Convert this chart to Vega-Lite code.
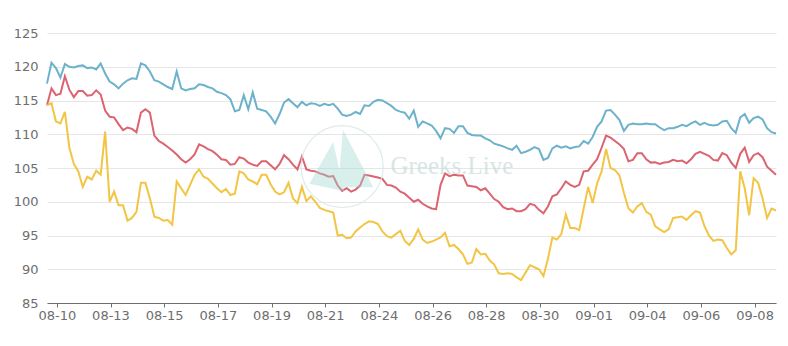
{
  "$schema": "https://vega.github.io/schema/vega-lite/v6.json",
  "width": 729,
  "height": 270,
  "autosize": {"type": "none"},
  "padding": {"left": 47, "top": 33, "right": 12, "bottom": 43},
  "background": "white",
  "config": {"view": {"stroke": null}, "font": "DejaVu Sans"},
  "datasets": {
    "lines": [
      {"i":0,"a":117.5,"b":114.3,"c":114.3},{"i":1,"a":120.6,"b":116.8,"c":114.6},{"i":2,"a":119.8,"b":115.8,"c":111.9},{"i":3,"a":118.4,"b":116.0,"c":111.6},{"i":4,"a":120.4,"b":118.6,"c":113.3},{"i":5,"a":120.0,"b":116.6,"c":108.0},{"i":6,"a":119.9,"b":115.5,"c":105.6},{"i":7,"a":120.1,"b":116.4,"c":104.5},{"i":8,"a":120.2,"b":116.4,"c":102.2},{"i":9,"a":119.8,"b":115.7,"c":103.7},
      {"i":10,"a":119.9,"b":115.8,"c":103.3},{"i":11,"a":119.6,"b":116.5,"c":104.6},{"i":12,"a":120.5,"b":115.9,"c":104.0},{"i":13,"a":119.0,"b":113.5,"c":110.4},{"i":14,"a":117.8,"b":112.6,"c":100.0},{"i":15,"a":117.4,"b":112.5,"c":101.5},{"i":16,"a":116.8,"b":111.5,"c":99.5},{"i":17,"a":117.5,"b":110.6,"c":99.5},{"i":18,"a":118.0,"b":111.0,"c":97.2},{"i":19,"a":118.3,"b":110.8,"c":97.6},
      {"i":20,"a":118.2,"b":110.3,"c":98.5},{"i":21,"a":120.5,"b":113.2,"c":102.8},{"i":22,"a":120.2,"b":113.7,"c":102.8},{"i":23,"a":119.3,"b":113.2,"c":100.5},{"i":24,"a":118.0,"b":109.8,"c":97.8},{"i":25,"a":117.8,"b":109.0,"c":97.6},{"i":26,"a":117.4,"b":108.6,"c":97.2},{"i":27,"a":117.0,"b":108.1,"c":97.3},{"i":28,"a":116.7,"b":107.6,"c":96.6},{"i":29,"a":119.3,"b":107.0,"c":103.0},
      {"i":30,"a":116.8,"b":106.3,"c":102.0},{"i":31,"a":116.5,"b":105.8,"c":101.0},{"i":32,"a":116.7,"b":106.3,"c":102.5},{"i":33,"a":116.8,"b":107.0,"c":104.0},{"i":34,"a":117.4,"b":108.5,"c":104.8},{"i":35,"a":117.3,"b":108.2,"c":103.7},{"i":36,"a":117.0,"b":107.8,"c":103.4},{"i":37,"a":116.8,"b":107.5,"c":102.7},{"i":38,"a":116.3,"b":106.95,"c":102.0},{"i":39,"a":116.1,"b":106.3,"c":101.4},
      {"i":40,"a":115.8,"b":106.2,"c":101.9},{"i":41,"a":115.2,"b":105.5,"c":101.0},{"i":42,"a":113.4,"b":105.6,"c":101.2},{"i":43,"a":113.6,"b":106.6,"c":104.5},{"i":44,"a":115.8,"b":106.4,"c":104.2},{"i":45,"a":113.7,"b":105.8,"c":103.3},{"i":46,"a":116.2,"b":105.5,"c":103.0},{"i":47,"a":113.8,"b":105.3,"c":102.6},{"i":48,"a":113.6,"b":106.0,"c":104.0},{"i":49,"a":113.4,"b":106.0,"c":104.0},
      {"i":50,"a":112.6,"b":105.4,"c":102.6},{"i":51,"a":111.6,"b":104.8,"c":101.5},{"i":52,"a":113.0,"b":105.6,"c":101.1},{"i":53,"a":114.7,"b":106.9,"c":101.4},{"i":54,"a":115.2,"b":106.3,"c":102.8},{"i":55,"a":114.6,"b":105.5,"c":100.5},{"i":56,"a":114.0,"b":104.8,"c":99.8},{"i":57,"a":114.8,"b":106.7,"c":102.2},{"i":58,"a":114.3,"b":104.8,"c":100.1},{"i":59,"a":114.6,"b":104.6,"c":100.8},
      {"i":60,"a":114.5,"b":104.5,"c":100.0},{"i":61,"a":114.2,"b":104.2,"c":99.1},{"i":62,"a":114.5,"b":104.0,"c":98.8},{"i":63,"a":114.3,"b":103.7,"c":98.6},{"i":64,"a":114.5,"b":103.8,"c":98.4},{"i":65,"a":113.8,"b":102.4,"c":95.0},{"i":66,"a":112.9,"b":101.6,"c":95.1},{"i":67,"a":112.7,"b":102.0,"c":94.6},{"i":68,"a":112.9,"b":101.5,"c":94.7},{"i":69,"a":113.3,"b":101.8,"c":95.6},
      {"i":70,"a":113.0,"b":102.4,"c":96.2},{"i":71,"a":114.3,"b":104.0,"c":96.7},{"i":72,"a":114.2,"b":103.9,"c":97.1},{"i":73,"a":114.8,"b":103.75,"c":97.0},{"i":74,"a":115.1,"b":103.6,"c":96.7},{"i":75,"a":115.0,"b":103.4,"c":95.6},{"i":76,"a":114.6,"b":102.5,"c":94.9},{"i":77,"a":114.2,"b":102.4,"c":94.7},{"i":78,"a":113.6,"b":102.1,"c":95.2},{"i":79,"a":113.35,"b":101.5,"c":95.7},
      {"i":80,"a":113.2,"b":101.2,"c":94.2},{"i":81,"a":112.3,"b":100.6,"c":93.6},{"i":82,"a":113.5,"b":100.0,"c":94.5},{"i":83,"a":111.1,"b":100.3,"c":95.9},{"i":84,"a":111.9,"b":99.7,"c":94.4},{"i":85,"a":111.6,"b":99.3,"c":93.9},{"i":86,"a":111.3,"b":99.0,"c":94.1},{"i":87,"a":110.5,"b":98.9,"c":94.4},{"i":88,"a":109.4,"b":102.5,"c":94.7},{"i":89,"a":110.9,"b":104.2,"c":95.4},
      {"i":90,"a":110.8,"b":103.8,"c":93.4},{"i":91,"a":110.2,"b":104.0,"c":93.6},{"i":92,"a":111.2,"b":103.9,"c":93.0},{"i":93,"a":111.2,"b":103.9,"c":92.2},{"i":94,"a":110.2,"b":102.4,"c":90.8},{"i":95,"a":109.9,"b":102.3,"c":91.0},{"i":96,"a":109.8,"b":102.2,"c":93.0},{"i":97,"a":109.8,"b":101.7,"c":92.2},{"i":98,"a":109.4,"b":102.0,"c":92.3},{"i":99,"a":109.1,"b":101.2,"c":91.3},
      {"i":100,"a":108.6,"b":100.4,"c":90.7},{"i":101,"a":108.4,"b":100.0,"c":89.4},{"i":102,"a":108.2,"b":99.2,"c":89.3},{"i":103,"a":107.9,"b":98.9,"c":89.4},{"i":104,"a":107.7,"b":99.0,"c":89.3},{"i":105,"a":108.3,"b":98.6,"c":88.8},{"i":106,"a":107.2,"b":98.6,"c":88.4},{"i":107,"a":107.4,"b":98.9,"c":89.5},{"i":108,"a":107.7,"b":99.7,"c":90.6},{"i":109,"a":108.1,"b":99.5,"c":90.3},
      {"i":110,"a":107.8,"b":98.8,"c":90.0},{"i":111,"a":106.2,"b":98.3,"c":89.0},{"i":112,"a":106.5,"b":99.3,"c":91.5},{"i":113,"a":107.9,"b":100.8,"c":94.7},{"i":114,"a":108.3,"b":101.1,"c":94.4},{"i":115,"a":108.0,"b":102.0,"c":95.2},{"i":116,"a":108.2,"b":103.0,"c":98.1},{"i":117,"a":107.9,"b":102.5,"c":96.1},{"i":118,"a":108.1,"b":102.2,"c":96.1},{"i":119,"a":108.2,"b":102.5,"c":95.8},
      {"i":120,"a":109.0,"b":104.5,"c":99.0},{"i":121,"a":108.6,"b":104.6,"c":102.2},{"i":122,"a":109.6,"b":105.5,"c":99.8},{"i":123,"a":111.1,"b":106.3,"c":102.7},{"i":124,"a":111.9,"b":108.0,"c":104.5},{"i":125,"a":113.5,"b":109.8,"c":107.8},{"i":126,"a":113.6,"b":109.5,"c":105.0},{"i":127,"a":112.9,"b":109.0,"c":104.7},{"i":128,"a":112.1,"b":108.5,"c":103.9},{"i":129,"a":110.5,"b":107.8,"c":101.3},
      {"i":130,"a":111.4,"b":106.0,"c":99.05},{"i":131,"a":111.6,"b":106.2,"c":98.4},{"i":132,"a":111.5,"b":107.2,"c":99.3},{"i":133,"a":111.5,"b":107.2,"c":99.8},{"i":134,"a":111.6,"b":106.3,"c":98.5},{"i":135,"a":111.5,"b":105.8,"c":98.1},{"i":136,"a":111.5,"b":105.85,"c":96.35},{"i":137,"a":111.0,"b":105.6,"c":95.9},{"i":138,"a":110.6,"b":105.8,"c":95.5},{"i":139,"a":110.9,"b":105.9,"c":95.9},
      {"i":140,"a":110.9,"b":106.2,"c":97.6},{"i":141,"a":111.1,"b":106.0,"c":97.7},{"i":142,"a":111.4,"b":106.1,"c":97.8},{"i":143,"a":111.2,"b":105.7,"c":97.3},{"i":144,"a":111.6,"b":106.3,"c":98.0},{"i":145,"a":111.9,"b":107.1,"c":98.6},{"i":146,"a":111.4,"b":107.4,"c":98.4},{"i":147,"a":111.7,"b":107.1,"c":96.4},{"i":148,"a":111.4,"b":106.8,"c":95.0},{"i":149,"a":111.3,"b":106.2,"c":94.2},
      {"i":150,"a":111.4,"b":106.1,"c":94.4},{"i":151,"a":111.9,"b":107.2,"c":94.3},{"i":152,"a":112.0,"b":106.9,"c":93.15},{"i":153,"a":110.9,"b":105.8,"c":92.2},{"i":154,"a":110.2,"b":105.0,"c":92.8},{"i":155,"a":112.5,"b":107.1,"c":104.5},{"i":156,"a":113.0,"b":108.0,"c":102.0},{"i":157,"a":111.7,"b":105.9,"c":98.0},{"i":158,"a":112.4,"b":106.9,"c":103.5},{"i":159,"a":112.6,"b":107.2,"c":102.8},
      {"i":160,"a":112.2,"b":106.6,"c":100.5},{"i":161,"a":110.9,"b":105.2,"c":97.6},{"i":162,"a":110.3,"b":104.6,"c":99.0},{"i":163,"a":110.1,"b":104.0,"c":98.7}
    ],
    "mark": [
      {"kind": "logo", "i": 66, "v": 105.2, "t": ""},
      {"kind": "text", "i": 76.8, "v": 105.3, "t": "Greeks.Live"}
    ]
  },
  "encoding": {
    "x": {
      "field": "i", "type": "quantitative",
      "scale": {"domain": [0, 163], "nice": false, "zero": false},
      "axis": {
        "title": null, "grid": false,
        "values": [2.2, 14.2, 26.2, 38.2, 50.2, 62.2, 74.2, 86.2, 98.2, 110.2, 122.2, 134.2, 146.2, 158.2],
        "labelExpr": "['08-10','08-13','08-15','08-17','08-19','08-21','08-24','08-26','08-28','08-30','09-01','09-04','09-06','09-08'][round((datum.value-2.2)/12)]",
        "domainColor": "#6e6e6e", "tickColor": "#6e6e6e", "tickSize": 4,
        "labelColor": "#6e6e6e", "labelFont": "DejaVu Sans", "labelFontSize": 13,
        "labelPadding": 2, "labelFlush": false, "labelOverlap": false
      }
    },
    "y": {
      "field": "v", "type": "quantitative",
      "scale": {"domain": [85, 125], "nice": false, "zero": false},
      "axis": {
        "title": null, "values": [85, 90, 95, 100, 105, 110, 115, 120, 125],
        "domain": false, "ticks": false, "tickSize": 0,
        "gridColor": "#e6e6e6", "gridWidth": 1,
        "labelColor": "#6e6e6e", "labelFont": "DejaVu Sans", "labelFontSize": 13,
        "labelPadding": 9, "labelOverlap": false, "labelFlush": false
      }
    }
  },
  "layer": [
    {
      "data": {"name": "lines"},
      "transform": [{"fold": ["a", "b", "c"], "as": ["series", "v"]}],
      "mark": {"type": "line", "strokeWidth": 2, "interpolate": "linear"},
      "encoding": {
        "color": {
          "field": "series", "type": "nominal",
          "scale": {"domain": ["a", "b", "c"], "range": ["#6cb2cb", "#dc6470", "#f2c544"]},
          "legend": null
        },
        "order": {"field": "i", "type": "quantitative"}
      }
    },
    {
      "data": {"name": "mark"},
      "transform": [{"filter": "datum.kind === 'logo'"}],
      "mark": {"type": "point", "shape": "circle", "filled": false, "size": 6724, "stroke": "#d6e9e6", "strokeWidth": 1.2, "opacity": 0.8}
    },
    {
      "data": {"name": "mark"},
      "transform": [{"filter": "datum.kind === 'logo'"}],
      "mark": {"type": "point", "shape": "M0.02,-0.9L0.76,0.5L-0.1,0.5Z M-0.22,-0.6L0.05,0.6L-0.8,0.42Z", "filled": true, "size": 6724, "color": "#9fd8d0", "opacity": 0.4, "strokeWidth": 0}
    },
    {
      "data": {"name": "mark"},
      "transform": [{"filter": "datum.kind === 'text'"}],
      "mark": {"type": "text", "font": "Liberation Serif", "fontSize": 25, "align": "left", "baseline": "middle", "color": "#c5dcd9", "opacity": 0.7},
      "encoding": {"text": {"field": "t"}}
    }
  ]
}
